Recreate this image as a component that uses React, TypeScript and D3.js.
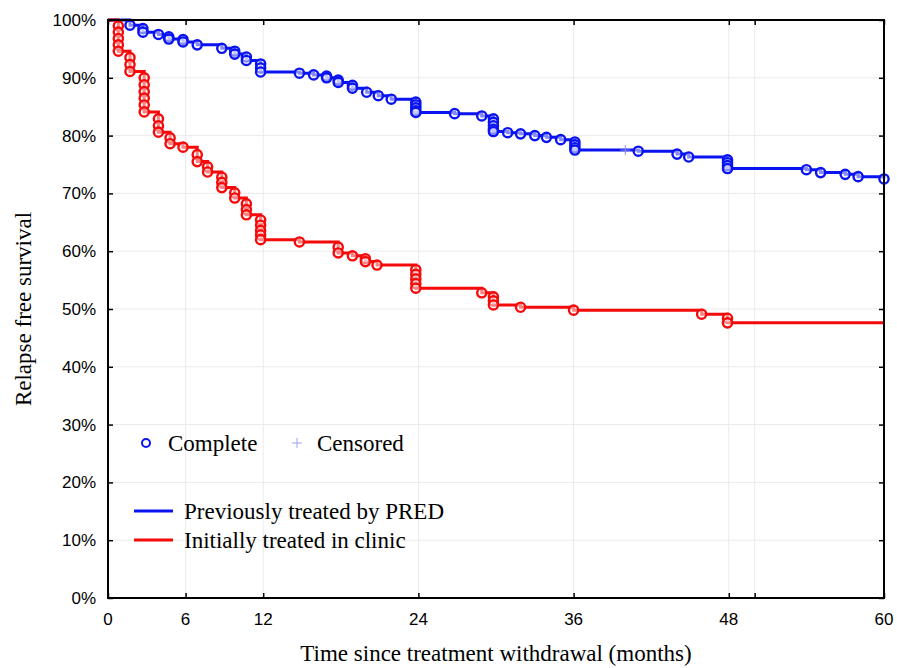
import React, { useEffect, useRef } from 'react'
import * as d3 from 'd3'

// x axis: months since withdrawal
const xTicks = [0, 6, 12, 24, 36, 48, 50, 60]
const xTickLabels = ['0', '6', '12', '24', '36', '48', '', '60']
const yTicks = [0, 10, 20, 30, 40, 50, 60, 70, 80, 90, 100]

// events (complete), one entry per circle: [month, survival %]
const predEvents: [number, number][] = [
  [1.7, 99.1],
  [2.7, 98.5], [2.7, 97.9],
  [3.9, 97.5],
  [4.7, 97.1], [4.7, 96.7],
  [5.8, 96.6], [5.8, 96.2],
  [6.9, 95.7],
  [8.8, 95.1],
  [9.8, 94.6], [9.8, 94.1],
  [10.7, 93.6], [10.7, 93.0],
  [11.8, 92.4], [11.8, 91.7], [11.8, 91.0],
  [14.8, 90.8],
  [15.9, 90.5],
  [16.9, 90.3], [16.9, 90.0],
  [17.8, 89.6], [17.8, 89.2],
  [18.9, 88.7], [18.9, 88.2],
  [20.0, 87.5],
  [20.9, 86.9],
  [21.9, 86.3],
  [23.8, 85.8], [23.8, 85.3], [23.8, 84.8], [23.8, 84.3], [23.8, 84.0],
  [26.8, 83.8],
  [28.9, 83.4],
  [29.8, 82.9], [29.8, 82.3], [29.8, 81.7], [29.8, 81.1], [29.8, 80.7],
  [30.9, 80.5],
  [31.9, 80.3],
  [33.0, 80.0],
  [33.9, 79.7],
  [35.0, 79.3],
  [36.1, 78.9], [36.1, 78.4], [36.1, 77.9], [36.1, 77.5],
  [41.0, 77.3],
  [44.0, 76.8],
  [44.9, 76.3],
  [47.9, 75.8], [47.9, 75.3], [47.9, 74.8], [47.9, 74.3],
  [54.0, 74.1],
  [55.1, 73.6],
  [57.0, 73.3],
  [58.0, 72.9],
  [60.0, 72.5],
]
const predCensored: [number, number][] = [[40.0, 77.5]]

const clinicEvents: [number, number][] = [
  [0.8, 99.0], [0.8, 97.9], [0.8, 96.8], [0.8, 95.7], [0.8, 94.6],
  [1.7, 93.5], [1.7, 92.3], [1.7, 91.1],
  [2.8, 90.0], [2.8, 88.8], [2.8, 87.6], [2.8, 86.5], [2.8, 85.3], [2.8, 84.1],
  [3.9, 82.9], [3.9, 81.7], [3.9, 80.6],
  [4.8, 79.6], [4.8, 78.6],
  [5.8, 78.0],
  [6.9, 76.7], [6.9, 75.5],
  [7.7, 74.6], [7.7, 73.7],
  [8.8, 72.8], [8.8, 71.9], [8.8, 71.0],
  [9.8, 70.1], [9.8, 69.2],
  [10.7, 68.2], [10.7, 67.2], [10.7, 66.3],
  [11.8, 65.4], [11.8, 64.5], [11.8, 63.6], [11.8, 62.8], [11.8, 62.0],
  [14.8, 61.6],
  [17.8, 60.7], [17.8, 59.7],
  [18.9, 59.2],
  [19.9, 58.7], [19.9, 58.2],
  [20.8, 57.6],
  [23.8, 56.8], [23.8, 56.0], [23.8, 55.2], [23.8, 54.4], [23.8, 53.6],
  [28.9, 52.8],
  [29.8, 52.1], [29.8, 51.4], [29.8, 50.7],
  [31.9, 50.3],
  [36.0, 49.8],
  [45.9, 49.1],
  [47.9, 48.4], [47.9, 47.6],
]

const BLUE = '#0a14f0'
const RED = '#f50a0a'

const W = 897
const H = 668
const margin = { top: 20, right: 13, bottom: 70, left: 108 }

function App() {
  const node = useRef<SVGSVGElement>(null)

  useEffect(() => {
    const svg = d3.select(node.current)
    svg.selectAll('*').remove()

    const x = d3.scaleLinear().domain([0, 60]).range([margin.left, W - margin.right])
    const y = d3.scaleLinear().domain([0, 100]).range([H - margin.bottom, margin.top])
    const [x0, x1] = x.range()
    const [y0, y1] = y.range()

    // grid
    const grid = svg.append('g').attr('stroke', '#ebebeb').attr('stroke-width', 1)
    grid.selectAll('line.gy')
      .data(yTicks.slice(1, -1))
      .enter()
      .append('line')
      .attr('x1', x0).attr('x2', x1)
      .attr('y1', d => y(d)).attr('y2', d => y(d))
    grid.selectAll('line.gx')
      .data(xTicks.slice(1, -1))
      .enter()
      .append('line')
      .attr('y1', y0).attr('y2', y1)
      .attr('x1', d => x(d)).attr('x2', d => x(d))

    // curves
    const line = d3.line<[number, number]>()
      .x(d => x(d[0]))
      .y(d => y(d[1]))
      .curve(d3.curveStepAfter)

    const drawCurve = (events: [number, number][], color: string) => {
      const last = events[events.length - 1]
      const pts: [number, number][] = [[0, 100], ...events, [60, last[1]]]
      svg.append('path')
        .datum(pts)
        .attr('fill', 'none')
        .attr('stroke', color)
        .attr('stroke-width', 3)
        .attr('d', line)
      svg.append('g')
        .selectAll('circle')
        .data(events)
        .enter()
        .append('circle')
        .attr('cx', d => x(d[0]))
        .attr('cy', d => y(d[1]))
        .attr('r', 4.6)
        .attr('fill', 'white')
        .attr('fill-opacity', 0.5)
        .attr('stroke', color)
        .attr('stroke-width', 2.4)
    }
    drawCurve(predEvents, BLUE)
    drawCurve(clinicEvents, RED)

    svg.append('g')
      .selectAll('path')
      .data(predCensored)
      .enter()
      .append('path')
      .attr('d', d => `M${x(d[0]) - 5},${y(d[1])}h10M${x(d[0])},${y(d[1]) - 5}v10`)
      .attr('stroke', '#8c8cf0')
      .attr('stroke-width', 1)

    // frame + inward ticks
    svg.append('rect')
      .attr('x', x0).attr('y', y1)
      .attr('width', x1 - x0).attr('height', y0 - y1)
      .attr('fill', 'none')
      .attr('stroke', 'black')
      .attr('stroke-width', 2)

    const tickFont = '"Liberation Sans", Arial, sans-serif'
    const left = svg.append('g').attr('transform', `translate(${x0},0)`)
      .call(d3.axisRight(y).tickValues(yTicks).tickSize(5).tickFormat(() => ''))
    const right = svg.append('g').attr('transform', `translate(${x1},0)`)
      .call(d3.axisLeft(y).tickValues(yTicks).tickSize(5).tickFormat(() => ''))
    const bottom = svg.append('g').attr('transform', `translate(0,${y0})`)
      .call(d3.axisTop(x).tickValues(xTicks).tickSize(5).tickFormat(() => ''))
    const top = svg.append('g').attr('transform', `translate(0,${y1})`)
      .call(d3.axisBottom(x).tickValues(xTicks).tickSize(5).tickFormat(() => ''))
    ;[left, right, bottom, top].forEach(g => {
      g.select('.domain').remove()
      g.selectAll('line').attr('stroke', 'black').attr('stroke-width', 1.5)
    })

    svg.append('g')
      .selectAll('text')
      .data(yTicks)
      .enter()
      .append('text')
      .attr('x', x0 - 12)
      .attr('y', d => y(d) + 6)
      .attr('text-anchor', 'end')
      .attr('font-family', tickFont)
      .attr('font-size', 17)
      .text(d => `${d}%`)

    svg.append('g')
      .selectAll('text')
      .data(xTicks)
      .enter()
      .append('text')
      .attr('x', d => x(d))
      .attr('y', y0 + 27)
      .attr('text-anchor', 'middle')
      .attr('font-family', tickFont)
      .attr('font-size', 17)
      .text((d, i) => xTickLabels[i])

    const serif = '"Liberation Serif", "Times New Roman", serif'
    svg.append('text')
      .attr('x', (x0 + x1) / 2)
      .attr('y', 661)
      .attr('text-anchor', 'middle')
      .attr('font-family', serif)
      .attr('font-size', 23)
      .text('Time since treatment withdrawal (months)')

    svg.append('text')
      .attr('transform', `translate(31,${(y0 + y1) / 2}) rotate(-90)`)
      .attr('text-anchor', 'middle')
      .attr('font-family', serif)
      .attr('font-size', 23)
      .text('Relapse free survival')

    // legend
    const lg = svg.append('g').attr('font-family', serif).attr('font-size', 23)
    lg.append('circle').attr('cx', 146).attr('cy', 443).attr('r', 4)
      .attr('fill', 'none').attr('stroke', BLUE).attr('stroke-width', 2)
    lg.append('text').attr('x', 168).attr('y', 451).text('Complete')
    lg.append('path').attr('d', 'M292,443h10M297,438v10')
      .attr('stroke', '#a0a0f0').attr('stroke-width', 1)
    lg.append('text').attr('x', 317).attr('y', 451).text('Censored')

    const series = [
      { name: 'Previously treated by PRED', color: BLUE, yy: 511 },
      { name: 'Initially treated in clinic', color: RED, yy: 540 },
    ]
    series.forEach(s => {
      lg.append('line').attr('x1', 134).attr('x2', 173)
        .attr('y1', s.yy).attr('y2', s.yy)
        .attr('stroke', s.color).attr('stroke-width', 3)
      lg.append('text').attr('x', 184).attr('y', s.yy + 8).text(s.name)
    })
  }, [])

  return (
    <svg ref={node} width={W} height={H}
      style={{ position: 'absolute', left: 0, top: 0, background: 'white' }} />
  )
}

export default App
